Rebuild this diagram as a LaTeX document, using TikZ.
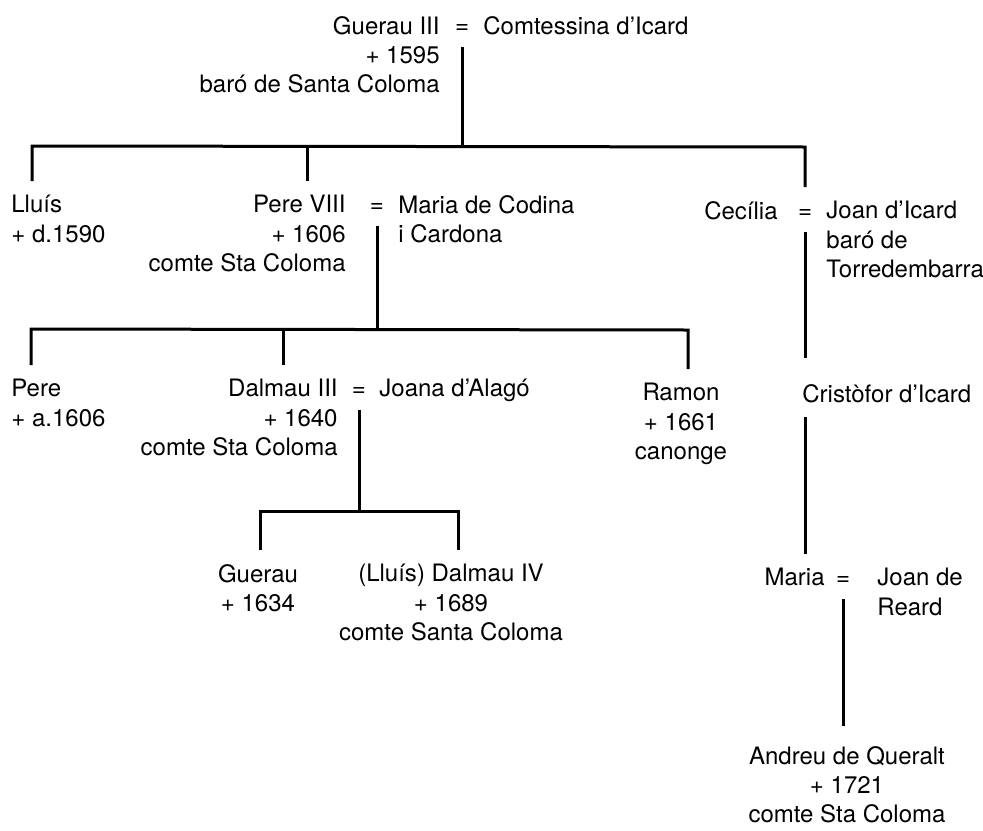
\documentclass[tikz,border=0pt]{standalone}
\usepackage{fontspec}
\setmainfont{TeX Gyre Heros}
\usepackage{tikz}
\usetikzlibrary{calc}
\tikzstyle{persona}=[inner xsep=0pt,inner ysep=7pt,font=\fontsize{12}{14.6}\selectfont]
\tikzstyle{igual}=[inner xsep=0pt,inner ysep=7pt,anchor=base,font=\fontsize{12}{14.6}\selectfont]
\tikzstyle{lligam}=[line width=1.5pt,line cap=butt]

\begin{document}
\begin{tikzpicture}[x=0.5pt,y=-0.5pt]
\useasboundingbox (0,0) rectangle (983,830);
\node[persona,anchor=north east,align=right] (a) at (440,2) {Guerau III\\+ 1595\\baró de Santa Coloma};
\node[igual] (eq1) at (462,33) {=};
\node[persona,anchor=north west] (b) at (483,2) {Comtessina d’Icard};
\node[persona,anchor=north west,align=left] (c) at (11,181) {Lluís\\+ d.1590};
\node[persona,anchor=north east,align=right] (d) at (346,181) {Pere VIII\\+ 1606\\comte Sta Coloma};
\node[igual] (eq2) at (377,212) {=};
\node[persona,anchor=north west,align=left] (e) at (398,181) {Maria de Codina\\i Cardona};
\node[persona,anchor=north east] (f) at (778,187) {Cecília};
\node[igual] (eq3) at (805,218) {=};
\node[persona,anchor=north west,align=left] (g) at (826,187) {Joan d’Icard\\baró de\\Torredembarra};
\node[persona,anchor=north west,align=left] (h) at (11,365) {Pere\\+ a.1606};
\node[persona,anchor=north east,align=right] (i) at (338,365) {Dalmau III\\+ 1640\\comte Sta Coloma};
\node[igual] (eq4) at (359,396) {=};
\node[persona,anchor=north west] (j) at (379,365) {Joana d’Alagó};
\node[persona,anchor=north,align=center] (k) at (681,369) {Ramon\\+ 1661\\canonge};
\node[persona,anchor=north west] (l) at (802,370) {Cristòfor d’Icard};
\node[persona,anchor=north,align=center] (m) at (258,550) {Guerau\\+ 1634};
\node[persona,anchor=north,align=center] (n) at (451,550) {(Lluís) Dalmau IV\\+ 1689\\comte Santa Coloma};
\node[persona,anchor=north east] (o) at (825,554) {Maria};
\node[igual] (eq5) at (843,585) {=};
\node[persona,anchor=north west,align=left] (p) at (877,554) {Joan de\\Reard};
\node[persona,anchor=north,align=center] (q) at (847,732) {Andreu de Queralt\\+ 1721\\comte Sta Coloma};
%Bars
\coordinate (b1a) at (32,146);
\coordinate (b1p) at (307,146);
\coordinate (b1b) at (805,147);
\coordinate (b2a) at (31,329);
\coordinate (b2p) at (283,329);
\coordinate (b2b) at (688,330);
\coordinate (b3a) at (260,511);
\coordinate (b3b) at (458,511);
%Drawing lines
\draw[lligam] (eq1.south) -- (eq1.south |- b1a);
\draw[lligam] (b1a |- c.north) -- (b1a) -- (b1b) -- (b1b |- f.north);
\draw[lligam] (b1p) -- (b1p |- d.north);
\draw[lligam] (eq2.south) -- (eq2.south |- b2a);
\draw[lligam] (b2a |- h.north) -- (b2a) -- (b2b) -- (b2b |- k.north);
\draw[lligam] (b2p) -- (b2p |- i.north);
\draw[lligam] (eq4.south) -- (eq4.south |- b3a);
\draw[lligam] (b3a |- m.north) -- (b3a) -- (b3b) -- (b3b |- n.north);
\draw[lligam] (eq3.south) -- ([yshift=6pt]eq3.south |- l.north);
\draw[lligam] (eq3.south |- l.south) -- (eq3.south |- o.north);
\draw[lligam] (eq5.south) -- ([yshift=3pt]eq5.south |- q.north);
\end{tikzpicture}
\end{document}
